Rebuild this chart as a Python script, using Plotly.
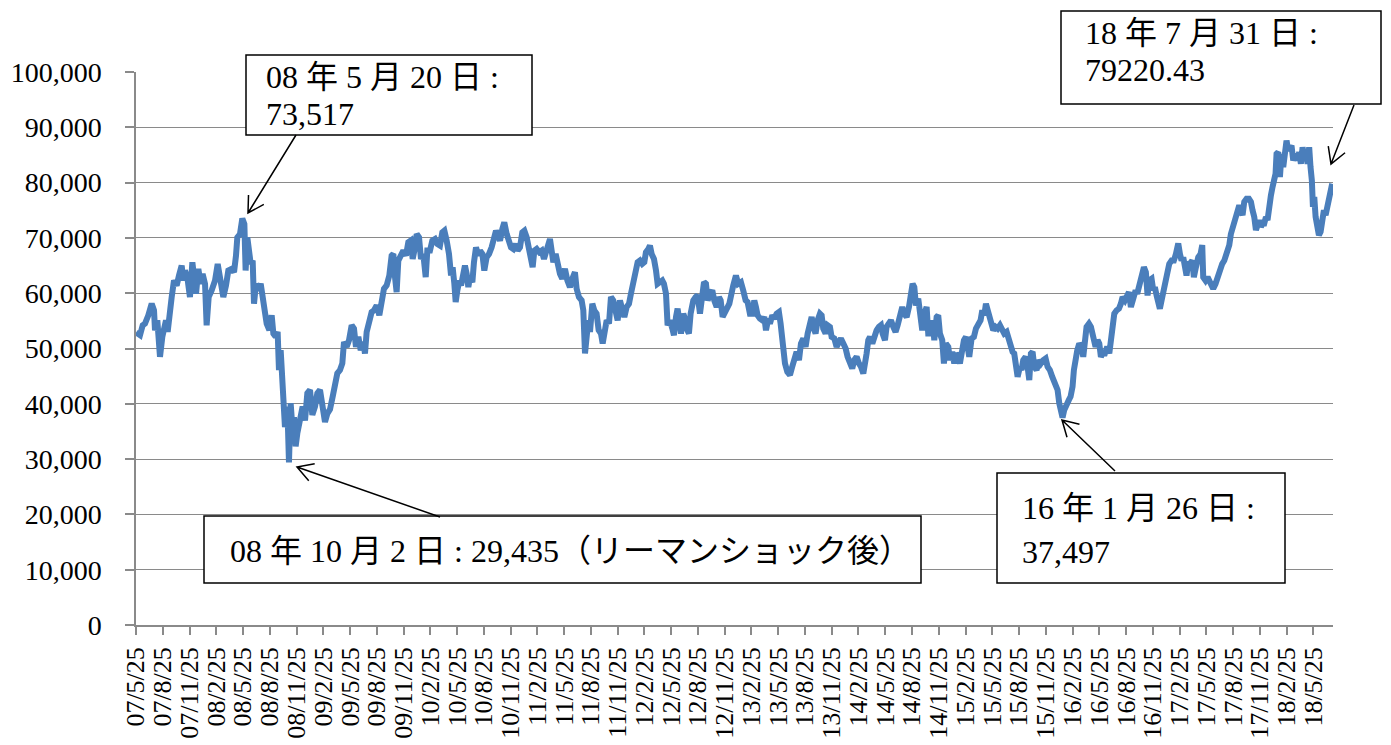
import math
import plotly.graph_objects as go

# ---------------- data ----------------
# time axis: months elapsed since 2007/5/25 ; value: yen
months = [
    0.00, 0.45, 0.75, 1.01, 1.38, 1.76, 2.02, 2.13, 2.39, 2.69, 2.95, 3.18, 3.36, 3.55, 3.81, 4.00,
    4.26, 4.56, 4.82, 5.12, 5.31, 5.49, 5.75, 6.05, 6.32, 6.54, 6.73, 6.99, 7.25, 7.47, 7.74, 7.92,
    8.15, 8.48, 8.86, 9.16, 9.42, 9.79, 10.09, 10.35, 10.73, 10.99, 11.21, 11.36, 11.66, 11.92, 12.15, 12.29,
    12.48, 12.67, 12.86, 13.08, 13.23, 13.45, 13.71, 13.98, 14.20, 14.39, 14.65, 14.95, 15.21, 15.40, 15.66, 15.88,
    16.03, 16.22, 16.44, 16.59, 16.70, 16.97, 17.15, 17.34, 17.53, 17.71, 17.90, 18.09, 18.39, 18.68, 18.95, 19.21,
    19.51, 19.77, 20.07, 20.33, 20.63, 20.93, 21.19, 21.45,
    21.75, 22.05, 22.31, 22.57, 22.87, 23.13, 23.32, 23.62, 23.88, 24.18, 24.44, 24.66, 24.93, 25.19, 25.49, 25.67,
    25.86, 26.16, 26.42, 26.68, 26.98, 27.28, 27.54, 27.80, 28.10, 28.40, 28.66, 28.85, 29.04, 29.22, 29.41, 29.67,
    29.97, 30.27, 30.53, 30.79, 31.02, 31.28, 31.47, 31.73, 31.95, 32.21, 32.48, 32.66, 32.96, 33.22, 33.52, 33.78,
    34.08, 34.34, 34.57, 34.83, 35.09, 35.32, 35.50, 35.69, 35.84, 36.03, 36.25, 36.44, 36.70, 36.88, 37.07, 37.26,
    37.45, 37.71, 37.89, 38.12, 38.38, 38.57, 38.83, 39.05, 39.31, 39.58, 39.87, 40.14, 40.36, 40.62, 40.81, 41.07,
    41.29, 41.56, 41.82, 42.04, 42.30, 42.56, 42.79, 43.05, 43.31, 43.54, 43.80, 44.06,
    44.47, 44.66, 44.92, 45.22, 45.48, 45.74, 45.96, 46.23, 46.41, 46.60, 46.79, 47.05, 47.27, 47.53, 47.79, 48.09,
    48.36, 48.65, 48.92, 49.21, 49.40, 49.66, 49.96, 50.15, 50.34, 50.52, 50.71, 50.90, 51.16, 51.38, 51.64, 51.87,
    52.13, 52.32, 52.58, 52.77, 53.03, 53.25, 53.51, 53.77, 54.00, 54.26, 54.52, 54.75, 55.01, 55.27, 55.49, 55.75,
    56.02, 56.24, 56.50, 56.76, 56.99, 57.17, 57.44, 57.62, 57.81, 58.07, 58.30, 58.48, 58.74, 59.00, 59.19, 59.42,
    59.60, 59.86, 60.13, 60.31, 60.54, 60.72, 60.91, 61.10, 61.36, 61.55, 61.73, 61.99, 62.18, 62.48, 62.74, 62.97,
    63.23, 63.49, 63.68, 63.90, 64.09, 64.35, 64.61, 64.83, 65.10, 65.36, 65.55, 65.77, 66.03, 66.29, 66.52,
    66.96, 67.26, 67.52, 67.82, 68.08, 68.35, 68.57, 68.83, 69.09, 69.32, 69.50, 69.69, 69.95, 70.21, 70.44, 70.63,
    70.89, 71.07, 71.34, 71.56, 71.82, 72.08, 72.27, 72.49, 72.76, 73.02, 73.32, 73.57, 73.80, 74.06, 74.33, 74.55,
    74.81, 75.07, 75.30, 75.56, 75.75, 75.93, 76.19, 76.42, 76.68, 76.87, 77.05, 77.31, 77.54, 77.80, 77.99, 78.29,
    78.55, 78.81, 79.03, 79.30, 79.56, 79.78, 80.04, 80.30, 80.53, 80.79, 81.05, 81.28, 81.54, 81.72, 81.91, 82.10,
    82.29, 82.55, 82.77, 83.03, 83.29, 83.52, 83.70, 83.97, 84.15, 84.41, 84.64, 84.90, 85.16, 85.39, 85.65, 85.91,
    86.13, 86.40, 86.66, 86.88, 87.07, 87.26, 87.44, 87.70, 87.89, 88.15, 88.38, 88.64, 88.82,
    89.12, 89.31, 89.50, 89.76, 89.94, 90.13, 90.39, 90.58, 90.80, 91.07, 91.25, 91.51, 91.74, 91.92, 92.19, 92.37,
    92.56, 92.82, 93.05, 93.23, 93.42, 93.68, 93.94, 94.17, 94.43, 94.69, 94.88, 95.10, 95.29, 95.47, 95.66, 95.85,
    96.11, 96.37, 96.60, 96.86, 97.12, 97.34, 97.61, 97.87, 98.09, 98.28, 98.46, 98.65, 98.84, 99.10, 99.29, 99.47,
    99.74, 99.96, 100.15, 100.33, 100.52, 100.71, 100.97, 101.23, 101.45, 101.72, 101.98, 102.20, 102.46, 102.72, 102.95, 103.14,
    103.32, 103.51, 103.70, 103.88, 104.07, 104.33, 104.59, 104.78, 105.00, 105.15, 105.34, 105.53, 105.75, 106.01, 106.20, 106.39,
    106.57, 106.84, 107.06, 107.32, 107.58, 107.81, 108.00, 108.18, 108.37, 108.63, 108.89, 109.12, 109.30, 109.49, 109.68, 109.94,
    110.20, 110.42, 110.61, 110.87, 111.06, 111.32,
    111.54, 111.80, 112.07, 112.25, 112.48, 112.74, 113.00, 113.22, 113.41, 113.60, 113.86, 114.05, 114.23, 114.42, 114.61, 114.79,
    114.98, 115.17, 115.43, 115.65, 115.84, 116.10, 116.36, 116.59, 116.85, 117.04, 117.22, 117.41, 117.60, 117.78, 117.97, 118.16,
    118.42, 118.60, 118.83, 119.09, 119.35, 119.54, 119.65, 119.91, 120.14, 120.32, 120.59, 120.77, 121.03, 121.26, 121.52, 121.78,
    122.01, 122.19, 122.38, 122.57, 122.75, 123.01, 123.28, 123.50, 123.69, 123.87, 124.06, 124.25, 124.51, 124.77, 125.00, 125.18,
    125.37, 125.56, 125.74, 125.93, 126.12, 126.30, 126.49, 126.68, 126.86, 127.05, 127.24, 127.42, 127.61, 127.76, 127.87, 128.06,
    128.25, 128.43, 128.62, 128.81, 128.99, 129.18, 129.37, 129.55, 129.74, 130.00, 130.23, 130.41, 130.60, 130.79, 130.97, 131.16,
    131.35, 131.53, 131.68, 131.83, 131.95, 132.10, 132.25, 132.43, 132.62, 132.81, 132.99, 133.18, 133.37, 133.56, 133.74, 133.93,
    134.11,
]

values = [
    52900, 52400, 54200, 54500, 56000, 58100, 56900, 53300, 55100, 48500, 52100, 53300, 55100, 53000, 55700, 59300,
    62300, 61400, 63200, 65000, 62300, 64100, 62900, 59300, 65600, 62900, 59900, 64400, 61700, 63500, 61700, 54200,
    59300, 60500, 62300, 65300, 62300, 59300, 61400, 64100, 64400, 63800, 66800, 70100, 70700, 73500, 72500, 64100,
    70100, 68300, 65300, 65900, 58100, 61700, 60500, 61700, 58700, 56300, 54500, 53300, 56000, 52700, 52100, 53000,
    46100, 49700, 41900, 39500, 35800, 39500, 29400, 40100, 35800, 37600, 32300, 34700, 37600, 39500, 37000, 41900,
    42500, 38000, 39500, 41900, 42500, 38800, 36700, 38200,
    39000, 41300, 44300, 45500, 46100, 47300, 51200, 50300, 51500, 54200, 53600, 50300, 52100, 49700, 51200, 49100,
    53000, 54500, 56600, 56900, 57800, 56000, 58700, 60800, 61400, 63200, 66800, 67100, 62900, 60200, 65900, 67100,
    67700, 66800, 69200, 69500, 66200, 68300, 70700, 70100, 66200, 67100, 62900, 67700, 67700, 69500, 69800, 68900,
    68600, 71000, 71300, 69500, 67100, 63200, 64700, 61700, 58400, 60500, 62300, 61400, 63200, 65000, 63500, 61100,
    62900, 62000, 65600, 68300, 66800, 67700, 67100, 64100, 66500, 67100, 68300, 70700, 71300, 70400, 69500, 71600,
    72800, 70700, 69500, 68300, 68000, 68900, 67700, 68300, 71000, 71300, 70100, 67700,
    64700, 67700, 68000, 67400, 67700, 66200, 67700, 69200, 69800, 67700, 65600, 67100, 64700, 63500, 62600, 64400,
    62300, 61100, 62600, 63800, 60800, 59300, 58700, 56900, 49100, 51500, 55100, 53000, 58100, 56900, 56300, 53300,
    52700, 50900, 53300, 55100, 54500, 59300, 58700, 56900, 55100, 58700, 56900, 55700, 57500, 58100, 59900, 61700,
    62900, 65600, 65900, 65300, 65600, 67400, 68000, 68600, 67100, 66200, 64100, 61700, 62000, 62300, 61700, 59900,
    54200, 55100, 53600, 52400, 55700, 57200, 55100, 52700, 56300, 55400, 53600, 52700, 56300, 58700, 59300, 59600,
    56300, 59300, 62000, 61700, 58700, 59900, 60500, 58700, 57500, 59300, 58700, 55700, 56600, 57500, 58100,
    61400, 63200, 61700, 62000, 60500, 58700, 58400, 56300, 56300, 58700, 57500, 56000, 55400, 55100, 55700, 53300,
    55400, 54500, 56000, 55400, 56300, 56600, 54500, 49700, 47300, 45800, 45200, 46700, 48500, 49400, 47900, 50900,
    51800, 50300, 52700, 54800, 55700, 53900, 52700, 55100, 56300, 56000, 53600, 52700, 54200, 53900, 52100, 51800,
    50300, 51200, 51800, 50900, 50000, 48500, 47300, 46400, 47900, 48500, 47300, 46700, 45500, 46700, 49100, 51500,
    52100, 50900, 52100, 53300, 53900, 54200, 52700, 51500, 53900, 54800, 55100, 53900, 53000, 54200, 56300, 57500,
    56300, 55700, 57500, 60500, 61700, 61100, 57800, 59000, 56900, 53300, 56300, 57500, 52700,
    52700, 55100, 51500, 55700, 56000, 52700, 51500, 47300, 50900, 50300, 47900, 49400, 47300, 49100, 48500, 47300,
    49100, 51500, 52100, 50300, 48500, 51800, 52100, 53600, 54500, 55100, 56900, 56000, 58100, 57200, 56300, 54500,
    53300, 53900, 53600, 54200, 53600, 52700, 53000, 51500, 50300, 49400, 49100, 47000, 44900, 46700, 46100, 47900,
    48500, 46700, 44300, 49100, 49400, 46700, 46100, 47900, 47300, 47900, 48200, 46700, 46100, 44900, 44000, 43100,
    42500, 40100, 38900, 37500, 38900, 40100, 40700, 41300, 43100, 46100, 49100, 49700, 50900, 50300, 48500, 51500,
    53900, 54500, 53900, 52100, 50300, 51500, 50900, 48500, 49100, 49100, 50300, 49100, 51500, 53900, 56300, 56900,
    57200, 58100, 59300, 58700, 59300, 60200,
    57500, 58700, 60500, 59900, 61700, 63500, 64700, 63800, 59600, 62300, 62600, 60500, 61100, 59600, 58700, 57200,
    58700, 60500, 62300, 63500, 65300, 65900, 65900, 67100, 69000, 67100, 65900, 66500, 65300, 63200, 65600, 65300,
    65900, 62900, 64700, 66500, 67100, 68700, 62900, 62300, 62900, 62300, 61700, 60800, 61700, 62900, 64700, 65300,
    65900, 66800, 68000, 68700, 70700, 72000, 73200, 75000, 75900, 75000, 74100, 76500, 77100, 77100, 76500, 75000,
    73800, 71400, 72600, 73200, 72000, 72600, 72600, 73800, 73200, 76200, 77700, 79200, 81000, 81600, 85200, 85500,
    81000, 85200, 82800, 87000, 87600, 85800, 86400, 86700, 84000, 85200, 84000, 85500, 83400, 86400, 84600, 85500,
    83400, 86400, 82800, 80400, 75600, 77400, 73800, 72000, 70500, 71100, 73200, 75000, 74100, 75600, 77400, 78900,
    79800,
]

tick_labels = [
    "07/5/25", "07/8/25", "07/11/25",
    "08/2/25", "08/5/25", "08/8/25", "08/11/25",
    "09/2/25", "09/5/25", "09/8/25", "09/11/25",
    "10/2/25", "10/5/25", "10/8/25", "10/11/25",
    "11/2/25", "11/5/25", "11/8/25", "11/11/25",
    "12/2/25", "12/5/25", "12/8/25", "12/11/25",
    "13/2/25", "13/5/25", "13/8/25", "13/11/25",
    "14/2/25", "14/5/25", "14/8/25", "14/11/25",
    "15/2/25", "15/5/25", "15/8/25", "15/11/25",
    "16/2/25", "16/5/25", "16/8/25", "16/11/25",
    "17/2/25", "17/5/25", "17/8/25", "17/11/25",
    "18/2/25", "18/5/25",
]
tick_months = [3 * i for i in range(len(tick_labels))]

callout_texts = [
    ["08 年 5 月 20 日 :", "73,517"],
    ["08 年 10 月 2 日 : 29,435（リーマンショック後）"],
    ["16 年 1 月 26 日 :", "37,497"],
    ["18 年 7 月 31 日 :", "79220.43"],
]

# ---------------- layout geometry ----------------
# The page places the figure 8 px from the top-left corner (body margin),
# so the figure margins are chosen to land the plot area on the target
# page pixels: left 136, right 1333, top 72, bottom 625.
PAGE_OFF = 8
FIG_W, FIG_H = 1391, 745
PLOT_L, PLOT_R, PLOT_T, PLOT_B = 136, 1333, 72, 625
M_L = PLOT_L - PAGE_OFF
M_T = PLOT_T - PAGE_OFF
M_R = FIG_W - (PLOT_R - PAGE_OFF)
M_B = FIG_H - (PLOT_B - PAGE_OFF)
PLOT_W = PLOT_R - PLOT_L
PLOT_H = PLOT_B - PLOT_T


def px(x):
    return (x - PLOT_L) / PLOT_W


def py(y):
    return (PLOT_B - y) / PLOT_H


SERIF = "Liberation Serif, Noto Sans CJK JP, serif"
GRID = "#8a8a8a"
LINE_BLUE = "#4a7ebb"
TEXT_SIZE = 32

fig = go.Figure()
fig.add_trace(go.Scatter(
    x=months, y=values, mode="lines",
    line=dict(color=LINE_BLUE, width=6),
    hoverinfo="skip", showlegend=False,
))

# callout boxes (page pixels): rect (x0, y0, x1, y1), text line anchors (left x, center y)
boxes = [
    dict(rect=(246, 55, 532, 135), lines=[(264, 77), (264, 114)]),
    dict(rect=(204, 516, 921, 583), lines=[(228, 551)]),
    dict(rect=(997, 473, 1285, 583), lines=[(1020, 508), (1020, 552)]),
    dict(rect=(1061, 11, 1381, 104), lines=[(1083, 33), (1083, 70)]),
]
arrows = [
    ((296, 135), (248, 213)),
    ((440, 517), (297, 467)),
    ((1115, 471), (1062, 420)),
    ((1354, 105), (1331, 164)),
]

shapes = []
annotations = []
for box, texts in zip(boxes, callout_texts):
    x0, y0, x1, y1 = box["rect"]
    shapes.append(dict(type="rect", xref="paper", yref="paper",
                       x0=px(x0), x1=px(x1), y0=py(y1), y1=py(y0),
                       fillcolor="white", line=dict(color="black", width=1.5),
                       layer="above"))
    for (tx, ty), t in zip(box["lines"], texts):
        annotations.append(dict(xref="paper", yref="paper", x=px(tx), y=py(ty),
                                xanchor="left", yanchor="middle", showarrow=False,
                                text=t, font=dict(family=SERIF, size=TEXT_SIZE, color="black")))

WING = 18
ANG = math.radians(30)
for (tx, ty), (hx, hy) in arrows:
    dx, dy = tx - hx, ty - hy
    d = math.hypot(dx, dy)
    bx, by = dx / d, dy / d
    w1 = (hx + WING * (bx * math.cos(ANG) - by * math.sin(ANG)),
          hy + WING * (bx * math.sin(ANG) + by * math.cos(ANG)))
    w2 = (hx + WING * (bx * math.cos(-ANG) - by * math.sin(-ANG)),
          hy + WING * (bx * math.sin(-ANG) + by * math.cos(-ANG)))
    path = (f"M {px(tx)},{py(ty)} L {px(hx)},{py(hy)} "
            f"M {px(w1[0])},{py(w1[1])} L {px(hx)},{py(hy)} L {px(w2[0])},{py(w2[1])}")
    shapes.append(dict(type="path", xref="paper", yref="paper", path=path,
                       line=dict(color="black", width=1.5), layer="above"))

fig.update_layout(
    width=FIG_W, height=FIG_H,
    margin=dict(l=M_L, r=M_R, t=M_T, b=M_B, autoexpand=False),
    paper_bgcolor="white", plot_bgcolor="white",
    showlegend=False,
    shapes=shapes, annotations=annotations,
    xaxis=dict(
        range=[0, 134.2], tickmode="array", tickvals=tick_months, ticktext=tick_labels,
        tickangle=-90, showgrid=False, zeroline=False,
        showline=True, linecolor=GRID, linewidth=1.5,
        ticks="outside", ticklen=8, tickcolor=GRID, tickwidth=1.5,
        tickfont=dict(family=SERIF, size=26, color="black"),
        ticklabelstandoff=2, automargin=False,
    ),
    yaxis=dict(
        range=[0, 100000], dtick=10000, tickformat=",d",
        showgrid=True, gridcolor=GRID, gridwidth=1.3, zeroline=False,
        showline=True, linecolor=GRID, linewidth=1.5,
        ticks="outside", ticklen=9, tickcolor=GRID, tickwidth=1.5,
        tickfont=dict(family=SERIF, size=28, color="black"),
        ticklabelstandoff=18, automargin=False,
    ),
)

fig.write_html("out.html")
